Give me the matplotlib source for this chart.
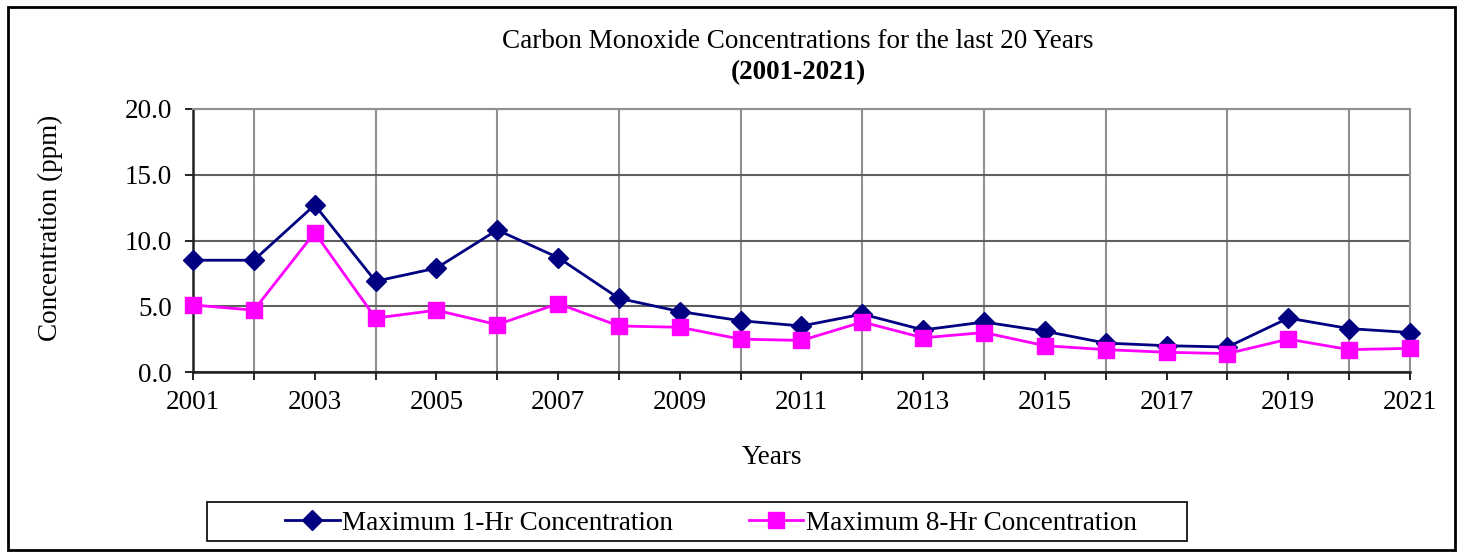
import matplotlib.pyplot as plt
import numpy as np
from matplotlib.patches import Rectangle
from matplotlib.ticker import FormatStrFormatter, MultipleLocator

plt.rcParams['font.family'] = ['Liberation Serif', 'DejaVu Serif']

years = list(range(2001, 2022))
max_1hr = [8.5, 8.5, 12.7, 6.9, 7.9, 10.8, 8.7, 5.6, 4.6, 3.9, 3.5,
           4.4, 3.2, 3.8, 3.1, 2.2, 2.0, 1.9, 4.1, 3.3, 3.0]
max_8hr = [5.1, 4.7, 10.6, 4.1, 4.7, 3.6, 5.2, 3.5, 3.4, 2.5, 2.4,
           3.8, 2.6, 3.0, 2.0, 1.7, 1.5, 1.4, 2.5, 1.7, 1.8]
xtick_labels = [str(y) for y in years[::2]]

fs = 19.5
W, H = 1463, 557

fig = plt.figure(figsize=(W / 100, H / 100), dpi=100)
ax = fig.add_axes([193 / W, 1 - 372 / H, (1410 - 193) / W, (372 - 109) / H])

ax.plot(years, max_1hr, color='#000080', lw=2, marker='D', ms=10,
        label='Maximum 1-Hr Concentration', zorder=3, clip_on=False)
ax.plot(years, max_8hr, color='#FF00FF', lw=2, marker='s', ms=12,
        label='Maximum 8-Hr Concentration', zorder=3, clip_on=False)

ax.set_xlim(2001, 2021)
ax.set_ylim(0, 20)
ax.set_xticks(years[::2])
ax.set_xticklabels(xtick_labels)
ax.set_xticks(years, minor=True)
ax.yaxis.set_major_locator(MultipleLocator(5))
ax.yaxis.set_major_formatter(FormatStrFormatter('%.1f'))
ax.tick_params(axis='both', which='both', direction='out', length=6,
               width=1.2, labelsize=fs, colors='black')
ax.tick_params(axis='x', which='major', pad=7)
ax.tick_params(axis='y', which='major', pad=9)

ax.grid(axis='x', which='minor', color='#909090', lw=1.5)
ax.grid(axis='y', which='major', color='#606060', lw=1.5)
ax.set_axisbelow(True)

for side in ['top', 'right']:
    ax.spines[side].set_color('#909090')
    ax.spines[side].set_linewidth(1.5)
for side in ['left', 'bottom']:
    ax.spines[side].set_color('#202020')
    ax.spines[side].set_linewidth(1.8)

fig.text(50 / W, 1 - 228 / H, 'Concentration (ppm)', fontsize=fs,
         rotation=90, ha='center', va='center')
fig.text(772 / W, 1 - 458 / H, 'Years', fontsize=fs, ha='center', va='center')
fig.text(798 / W, 1 - 42 / H, 'Carbon Monoxide Concentrations for the last 20 Years',
         fontsize=fs, ha='center', va='center')
fig.text(798 / W, 1 - 73 / H, '(2001-2021)', fontsize=fs, fontweight='bold',
         ha='center', va='center')

# legend: entries without frame, box drawn separately (wide padding)
leg = fig.legend(loc='center', bbox_to_anchor=(711 / W, 1 - 523 / H), ncol=2,
                 fontsize=fs, frameon=False, handlelength=2.0,
                 handletextpad=0.1, columnspacing=2.8)
fig.patches.append(Rectangle((207 / W, 1 - 541 / H), (1187 - 207) / W, 39 / H,
                             transform=fig.transFigure, fill=False,
                             edgecolor='black', lw=1.2))

fig.patches.append(Rectangle((8 / W, 7 / H), (1455 - 8) / W, (550 - 7) / H,
                             transform=fig.transFigure, fill=False,
                             edgecolor='black', lw=2))

fig.savefig('out.png', dpi=100)
